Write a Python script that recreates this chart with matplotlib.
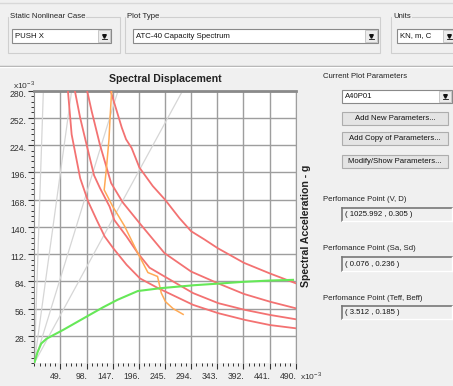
import matplotlib
matplotlib.use("Agg")
import matplotlib.pyplot as plt
from matplotlib.patches import Rectangle
from matplotlib.ticker import MultipleLocator
import matplotlib.transforms as mtransforms

plt.rcParams['font.family'] = ['Liberation Sans Narrow', 'Liberation Sans', 'DejaVu Sans']

# values are x10^-3 : Sd (m) on x, Sa (g) on y
x_ticks = [49, 98, 147, 196, 245, 294, 343, 392, 441, 490]
y_ticks = [28, 56, 84, 112, 140, 168, 196, 224, 252, 280]

# constant period lines, Sd where they leave the top of the plot
period_sd_top = [17, 70, 157, 278]

capacity_sd = [0, 6, 13, 23, 54, 98, 129, 156, 194, 238, 300, 344, 393, 442, 485]
capacity_sa = [0, 11, 20, 25, 34, 47.7, 57.3, 65, 74, 77, 80, 81.6, 83.5, 84.8, 85.5]

reduced_sd = [145, 142, 140, 135, 131, 147, 169, 194, 213, 231, 238, 246, 260, 279]
reduced_sa = [280, 252, 230, 199, 178, 161, 141, 113, 93, 89, 72, 63, 56, 50]

demand1_sd = [63, 70, 86, 101, 117, 132, 148, 173, 198, 232, 298, 345, 395, 442, 490]
demand1_sa = [280, 235, 190, 166, 147, 130, 118, 101, 87, 77, 59.7, 51.2, 44.3, 39, 35.7]
demand2_sd = [76, 86, 98, 112, 123, 141, 150, 173, 194, 216, 244, 298, 345, 395, 442, 490]
demand2_sa = [280, 252, 224.5, 193, 180, 161, 147, 130, 113, 98, 89, 71.8, 61.5, 54.6, 49.4, 45]
demand3_sd = [99, 107.5, 123, 144, 166, 197, 244, 294, 344, 393, 442, 490]
demand3_sa = [280, 259, 224.5, 185, 165, 144, 113, 94, 82, 71, 63, 56.3]
demand4_sd = [143, 164, 172, 182.5, 197, 222, 245, 272, 294, 319, 344, 393, 442, 490]
demand4_sa = [280, 242, 230, 221, 201, 182, 168, 149, 135.5, 127, 118, 103, 92, 82]

perf_vd = "( 1025.992 , 0.305 )"
perf_sasd = "( 0.076 , 0.236 )"
perf_teff = "( 3.512 , 0.185 )"

BG = '#f0f0f0'
fig = plt.figure(figsize=(4.53, 3.86), dpi=100, facecolor=BG)

# --- dialog widgets, drawn in pixel coordinates ---
ui = fig.add_axes([0, 0, 1, 1], zorder=0)
ui.set_xlim(0, 453)
ui.set_ylim(386, 0)
ui.axis('off')
UI_FS = 5.6


def rect(x0, y0, x1, y1, fc='none', ec='#a0a0a0', lw=0.8):
    ui.add_patch(Rectangle((x0, y0), x1 - x0, y1 - y0, facecolor=fc, edgecolor=ec, lw=lw))


def group(x0, y0, x1, y1, label):
    rect(x0, y0, x1, y1, ec='#cfcfcf')
    ui.text(x0 + 2, y0, label, fontsize=UI_FS, color='#222', va='center', ha='left',
            bbox=dict(facecolor=BG, edgecolor='none', pad=0.6))


def dropdown(x0, y0, x1, y1, text):
    rect(x0, y0, x1, y1, fc='white', ec='#8a8a8a')
    rect(x1 - 13, y0 + 1, x1 - 1, y1 - 1, fc='#ececec', ec='#c0c0c0', lw=0.6)
    ui.plot(x1 - 7, (y0 + y1) / 2 - 0.5, marker='v', ms=2.6, color='#111')
    ui.plot([x1 - 9.5, x1 - 4.5], [(y0 + y1) / 2 + 2.5] * 2, color='#111', lw=0.6)
    ui.text(x0 + 3, (y0 + y1) / 2, text, fontsize=UI_FS, color='#111', va='center')


def button(x0, y0, x1, y1, text):
    rect(x0, y0, x1, y1, fc='#e4e4e4', ec='#adadad')
    ui.text((x0 + x1) / 2, (y0 + y1) / 2, text, fontsize=UI_FS, color='#111',
            ha='center', va='center')


def readout(x0, y0, x1, y1, text):
    rect(x0, y0, x1, y1, fc=BG, ec='none')
    ui.plot([x0, x1], [y0, y0], color='#777', lw=1.2)
    ui.plot([x0, x0], [y0, y1], color='#777', lw=1.2)
    ui.plot([x0, x1], [y1, y1], color='white', lw=1)
    ui.plot([x1, x1], [y0, y1], color='white', lw=1)
    ui.text(x0 + 3, (y0 + y1) / 2, text, fontsize=UI_FS, color='#111', va='center')


ui.plot([0, 453], [3, 3], color='#d8d8d8', lw=1)
group(8, 17, 120, 53, "Static Nonlinear Case")
dropdown(12, 29, 111, 43, "PUSH X")
group(125, 17, 380, 53, "Plot Type")
dropdown(133, 29, 378, 43, "ATC-40 Capacity Spectrum")
group(391, 17, 460, 53, "Units")
dropdown(397, 29, 456, 43, "KN, m, C")
ui.plot([0, 453], [65.5, 65.5], color='#a8a8a8', lw=1)
ui.plot([0, 453], [67, 67], color='white', lw=1)

ui.text(323, 77, "Current Plot Parameters", fontsize=UI_FS, color='#222', va='center')
dropdown(342, 90, 452, 103, "A40P01")
button(342, 112, 448, 125, "Add New Parameters...")
button(342, 132, 448, 145, "Add Copy of Parameters...")
button(342, 155, 448, 168, "Modify/Show Parameters...")
ui.text(323, 199.5, "Perfomance Point (V, D)", fontsize=UI_FS, color='#222', va='center')
readout(342, 208, 452, 221, perf_vd)
ui.text(323, 249, "Perfomance Point (Sa, Sd)", fontsize=UI_FS, color='#222', va='center')
readout(342, 257, 452, 271, perf_sasd)
ui.text(323, 298, "Perfomance Point (Teff, Beff)", fontsize=UI_FS, color='#222', va='center')
readout(342, 306, 452, 319, perf_teff)

ui.text(165, 79, "Spectral Displacement", fontsize=7.6, fontweight='bold',
        color='#222', ha='center', va='center')
ui.text(306, 226, "Spectral Acceleration - g", fontsize=7.6, fontweight='bold',
        color='#222', ha='center', va='center', rotation=90)
ui.text(13, 85, r"x10$^{\mathregular{-3}}$", fontsize=6, color='#333', va='center')
ui.text(300, 376, r"x10$^{\mathregular{-3}}$", fontsize=6, color='#333', va='center')

# --- the capacity spectrum plot ---
ax = fig.add_axes([34.3 / 453, 23 / 386, 261.4 / 453, 272.3 / 386], zorder=2)
ax.set_facecolor('white')
ax.set_xlim(0, 490)
ax.set_ylim(0, 280)

ax.set_xticks(x_ticks)
ax.set_yticks(y_ticks)
ax.xaxis.set_minor_locator(MultipleLocator(9.8))
ax.yaxis.set_minor_locator(MultipleLocator(5.6))
ax.set_xticklabels([f"{v}." for v in x_ticks])
ax.set_yticklabels([f"{v}." for v in y_ticks])
ax.grid(True, which='major', color='#9e9e9e', lw=1.0)
ax.set_axisbelow(True)

ax.tick_params(which='major', direction='out', length=4.2, width=0.8, color='#333',
               labelsize=6.2, labelcolor='#333')
ax.tick_params(which='minor', direction='out', length=2, width=0.7, color='#333')
ax.tick_params(axis='x', pad=2.2)
ax.tick_params(axis='y', pad=1.2)
for lab in ax.get_xticklabels():
    lab.set_ha('right')
    lab.set_transform(lab.get_transform() + mtransforms.ScaledTranslation(1 / 100, 0, fig.dpi_scale_trans))
for lab in ax.get_yticklabels():
    lab.set_va('top')
    lab.set_transform(lab.get_transform() + mtransforms.ScaledTranslation(0, 1 / 100, fig.dpi_scale_trans))

ax.spines['bottom'].set_visible(False)
ax.spines['left'].set_color('#8c8c8c')
ax.spines['top'].set_color('#8a8a8a')
ax.spines['top'].set_linewidth(2)
ax.spines['right'].set_color('#9e9e9e')

for sd in period_sd_top:
    ax.plot([0, sd], [0, 280], color='#d6d6d6', lw=0.9, zorder=1.5)

red = '#f37272'
for sd, sa in [(demand1_sd, demand1_sa), (demand2_sd, demand2_sa),
               (demand3_sd, demand3_sa), (demand4_sd, demand4_sa)]:
    ax.plot(sd, sa, color=red, lw=1.3, zorder=3, clip_on=True)
ax.plot(reduced_sd, reduced_sa, color='#ffaa55', lw=1.1, zorder=3.5)
ax.plot(capacity_sd, capacity_sa, color='#66e858', lw=1.5, zorder=4)

fig.savefig('out.png', dpi=100, facecolor=fig.get_facecolor())
